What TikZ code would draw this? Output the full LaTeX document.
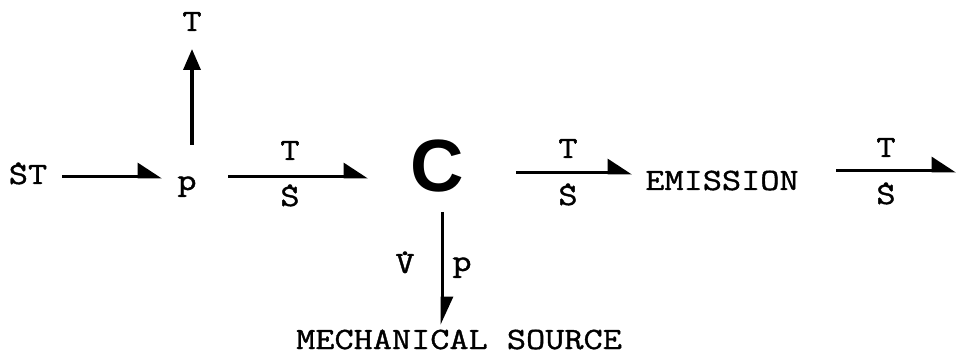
\documentclass[tikz,border=0pt]{standalone}
\usepackage{fontspec}
\setmonofont[FakeStretch=1.2, FakeBold=1.2]{Latin Modern Mono}
\newfontfamily\Cfont{Liberation Sans}
\usetikzlibrary{arrows.meta}
\newcommand\dotop[1]{\ooalign{#1\cr\hidewidth\raisebox{0.58em}{.}\hidewidth\cr}}
\begin{document}
\begin{tikzpicture}[x=1pt,y=-1pt,
  lbl/.style={font=\ttfamily\fontsize{31}{31}\selectfont, inner sep=0pt, anchor=base},
  bond/.style={line width=3pt, -{Triangle[harpoon,length=22pt,width=28pt]}},
  fullarrow/.style={line width=3.5pt, -{Triangle[length=21pt,width=17pt]}},
  downbond/.style={line width=3pt, -{Triangle[harpoon,length=25pt,width=22pt]}}]
\useasboundingbox (0,0) rectangle (956,355);
% texts
\node[lbl] (st) at (28,184) {\dotop{S}T};
\node[lbl] (p1) at (187,190) {p};
\node[lbl] (tup) at (192,31) {T};
\node[lbl] (t2) at (290,160) {T};
\node[lbl] (s2) at (290,206) {\dotop{S}};
\node[inner sep=0pt, anchor=base, font=\Cfont\bfseries\fontsize{74}{74}\selectfont] (c) at (437,192) {C};
\node[lbl] (t3) at (568,158) {T};
\node[lbl] (s3) at (568,205) {\dotop{S}};
\node[lbl] (em) at (722,190) {EMISSION};
\node[lbl] (t4) at (886,157) {T};
\node[lbl] (s4) at (886,204) {\dotop{S}};
\node[lbl] (v) at (405,273) {\dotop{V}};
\node[lbl] (p2) at (462,271) {p};
\node[lbl, anchor=base west] (ms) at (296,349) {MECHANICAL SOURCE};
% connector ends
\coordinate (a1s) at (62,177);  \coordinate (a1e) at (162,177);
\coordinate (a2s) at (228,177); \coordinate (a2e) at (368,177);
\coordinate (a3s) at (516,173); \coordinate (a3e) at (632,173);
\coordinate (a4s) at (836,171); \coordinate (a4e) at (956,171);
\coordinate (ups) at (192,145); \coordinate (upe) at (192,49);
\coordinate (dns) at (442,212); \coordinate (dne) at (442,325);
\draw[bond] (a1s) -- (a1e);
\draw[bond] (a2s) -- (a2e);
\draw[bond] (a3s) -- (a3e);
\draw[bond] (a4s) -- (a4e);
\draw[fullarrow] (ups) -- (upe);
\draw[downbond] (dns) -- (dne);
\end{tikzpicture}
\end{document}
